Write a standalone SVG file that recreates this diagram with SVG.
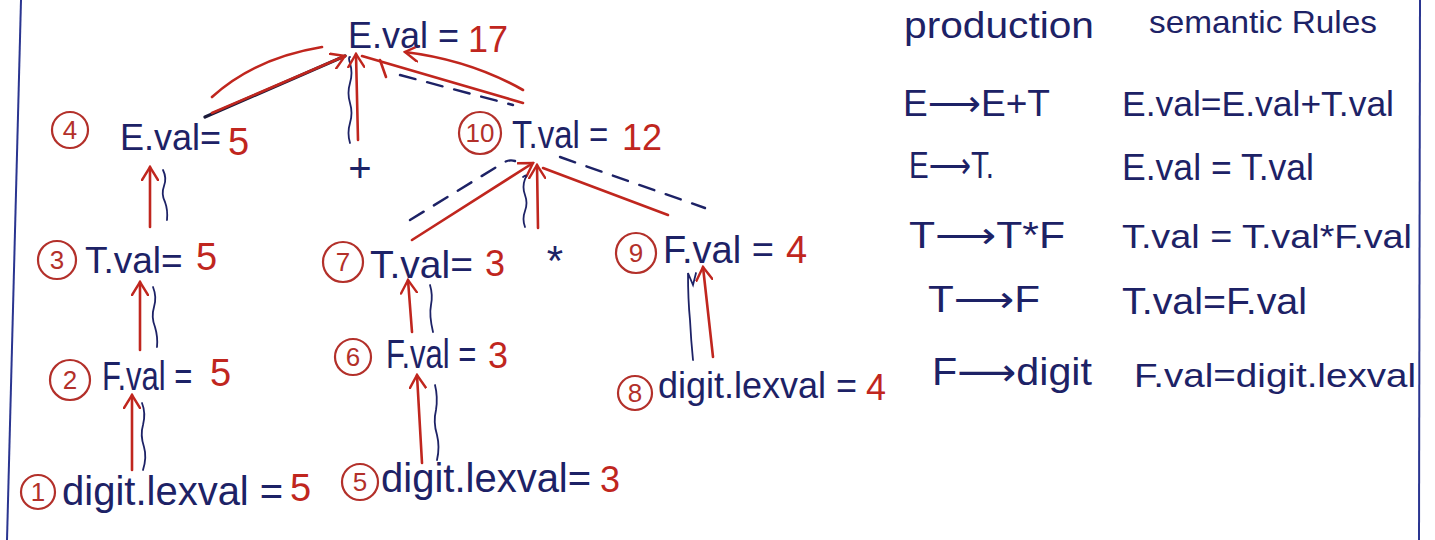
<svg xmlns="http://www.w3.org/2000/svg" width="1435" height="540" viewBox="0 0 1435 540">
<defs>
<style>
.b{fill:#1d2266;font-family:"Liberation Sans","DejaVu Sans",sans-serif}
.r{fill:#c0261e;font-family:"Liberation Sans","DejaVu Sans",sans-serif}
.num{fill:#b3302a;font-family:"Liberation Sans","DejaVu Sans",sans-serif;font-size:26px;text-anchor:middle}
.circ{fill:none;stroke:#b3302a;stroke-width:2.2}
.arr{fill:none;stroke:#c0261e;stroke-width:2.6;stroke-linecap:round;marker-end:url(#ah)}
.rl{fill:none;stroke:#c0261e;stroke-width:2.6;stroke-linecap:round}
.wave{fill:none;stroke:#1d2266;stroke-width:1.8;stroke-linecap:round}
.dash{fill:none;stroke:#1d2266;stroke-width:2.4;stroke-dasharray:16 12;stroke-linecap:round}
.dark{fill:none;stroke:#1a1a3a;stroke-width:3.2;stroke-linecap:round}
.border{fill:none;stroke:#2a3590;stroke-width:2}
</style>
<marker id="ah" viewBox="-1 -9 16 18" markerWidth="16" markerHeight="18" refX="13" refY="0" orient="auto" markerUnits="userSpaceOnUse">
<path d="M0,-8 L13,0 L0,8" fill="none" stroke="#c0261e" stroke-width="2.4" stroke-linecap="round"/>
</marker>
</defs>
<rect width="1435" height="540" fill="#ffffff"/>
<path class="border" d="M21,0 L7,540"/>
<path class="border" d="M1420,0 L1419,540"/>

<g id="connectors">
<!-- root -->
<path class="rl" d="M212,97 Q255,58 322,47"/>
<path class="dark" d="M205,117 L345,56"/>
<path class="arr" d="M212,113 L345,56"/>
<path class="wave" d="M350,143 q-3,-10 0,-20 q3,-10 0,-20 q-3,-10 0,-20 q3,-10 0,-20 q-2,-6 0,-6"/>
<path class="arr" d="M358,140 L356,54"/>
<path class="arr" d="M523,90 Q470,60 405,52"/>
<path class="rl" d="M362,56 L523,103"/>
<path class="rl" d="M380,60 L386,77"/>
<path class="dash" d="M400,75 L513,105"/>
<!-- node 10 -->
<path class="dash" d="M410,220 L503,163 q6,-4 12,-2"/>
<path class="arr" d="M412,240 L533,163"/>
<path class="wave" d="M525,227 q-3,-8 0,-16 q3,-8 0,-16 q-3,-8 0,-16 q3,-6 -2,-2"/>
<path class="arr" d="M538,228 L537,165"/>
<path class="rl" d="M543,168 L668,215"/>
<path class="dash" d="M560,157 L705,208"/>
<!-- left chain -->
<path class="arr" d="M150,227 L150,167"/>
<path class="wave" d="M163,170 q4,8 1,16 q-3,8 1,16 q3,8 2,18"/>
<path class="arr" d="M140,350 L140,282"/>
<path class="wave" d="M153,287 q4,10 1,20 q-3,10 1,20 q3,10 2,20"/>
<path class="arr" d="M132,470 L132,395"/>
<path class="wave" d="M142,403 q4,10 1,22 q-3,10 1,22 q3,10 -1,23"/>
<!-- middle chain -->
<path class="arr" d="M412,332 L408,280"/>
<path class="wave" d="M430,285 q3,10 1,20 q-2,10 2,27"/>
<path class="arr" d="M422,463 L417,375"/>
<path class="wave" d="M435,385 q3,12 1,25 q-3,12 1,25 q3,12 0,25"/>
<!-- right -->
<path class="arr" d="M713,357 L703,267"/>
<path class="wave" d="M693,360 q-2,-20 -3,-40 q-2,-20 -2,-47 l5,12 l3,-12"/>
</g>

<g id="n-root">
<text class="b" x="348" y="48" font-size="36">E.val =</text>
<text class="r" x="468" y="52" font-size="36">17</text>
</g>

<g id="n4">
<circle class="circ" cx="70" cy="130" r="18"/>
<text class="num" x="70" y="139">4</text>
<text class="b" x="120" y="150" font-size="36">E.val=</text>
<text class="r" x="228" y="155" font-size="38">5</text>
</g>

<g id="n-plus">
<text class="b" x="360" y="182" font-size="40" text-anchor="middle">+</text>
</g>

<g id="n10">
<circle class="circ" cx="480" cy="133" r="21"/>
<text class="num" x="480" y="142" font-size="23">10</text>
<text class="b" x="512" y="148" font-size="33" transform="translate(0,-29.6) scale(1,1.2)">T.val =</text>
<text class="r" x="622" y="150" font-size="36">12</text>
</g>

<g id="n3">
<circle class="circ" cx="57" cy="260" r="19"/>
<text class="num" x="57" y="269">3</text>
<text class="b" x="85" y="273" font-size="37">T.val=</text>
<text class="r" x="196" y="270" font-size="38">5</text>
</g>

<g id="n7">
<circle class="circ" cx="343" cy="262" r="20"/>
<text class="num" x="343" y="271">7</text>
<text class="b" x="370" y="278" font-size="39">T.val=</text>
<text class="r" x="485" y="276" font-size="36">3</text>
</g>

<g id="n-star">
<text class="b" x="555" y="275" font-size="42" text-anchor="middle">*</text>
</g>

<g id="n9">
<circle class="circ" cx="636" cy="253" r="20"/>
<text class="num" x="636" y="262">9</text>
<text class="b" x="663" y="263" font-size="38">F.val =</text>
<text class="r" x="786" y="263" font-size="38">4</text>
</g>

<g id="n2">
<circle class="circ" cx="70" cy="380" r="20"/>
<text class="num" x="70" y="389">2</text>
<text class="b" x="102" y="390" font-size="31" transform="translate(0,-117) scale(1,1.3)">F.val =</text>
<text class="r" x="210" y="386" font-size="38">5</text>
</g>

<g id="n6">
<circle class="circ" cx="353" cy="357" r="18"/>
<text class="num" x="353" y="366">6</text>
<text class="b" x="386" y="368" font-size="31" transform="translate(0,-110.4) scale(1,1.3)">F.val =</text>
<text class="r" x="488" y="368" font-size="36">3</text>
</g>

<g id="n8">
<circle class="circ" cx="635" cy="393" r="17"/>
<text class="num" x="635" y="402">8</text>
<text class="b" x="658" y="398" font-size="36">digit.lexval =</text>
<text class="r" x="866" y="400" font-size="36">4</text>
</g>

<g id="n1">
<circle class="circ" cx="38" cy="492" r="17"/>
<text class="num" x="38" y="501">1</text>
<text class="b" x="62" y="505" font-size="40">digit.lexval =</text>
<text class="r" x="290" y="501" font-size="38">5</text>
</g>

<g id="n5">
<circle class="circ" cx="360" cy="482" r="18"/>
<text class="num" x="360" y="491">5</text>
<text class="b" x="381" y="492" font-size="40">digit.lexval=</text>
<text class="r" x="600" y="492" font-size="36">3</text>
</g>

<g id="table">
<text class="b" x="904" y="38" font-size="36" textLength="190" lengthAdjust="spacingAndGlyphs">production</text>
<text class="b" x="1149" y="33" font-size="32" textLength="228" lengthAdjust="spacingAndGlyphs">semantic Rules</text>
<text class="b" x="903" y="116" font-size="36" textLength="147" lengthAdjust="spacingAndGlyphs">E⟶E+T</text>
<text class="b" x="1122" y="116" font-size="35" textLength="272" lengthAdjust="spacingAndGlyphs">E.val=E.val+T.val</text>
<text class="b" x="909" y="178" font-size="36" textLength="85" lengthAdjust="spacingAndGlyphs">E⟶T.</text>
<text class="b" x="1122" y="180" font-size="36" textLength="192" lengthAdjust="spacingAndGlyphs">E.val = T.val</text>
<text class="b" x="909" y="248" font-size="36" textLength="156" lengthAdjust="spacingAndGlyphs">T⟶T*F</text>
<text class="b" x="1122" y="248" font-size="33" textLength="290" lengthAdjust="spacingAndGlyphs">T.val = T.val*F.val</text>
<text class="b" x="928" y="312" font-size="36" textLength="112" lengthAdjust="spacingAndGlyphs">T⟶F</text>
<text class="b" x="1122" y="314" font-size="36" textLength="185" lengthAdjust="spacingAndGlyphs">T.val=F.val</text>
<text class="b" x="932" y="385" font-size="38" textLength="160" lengthAdjust="spacingAndGlyphs">F⟶digit</text>
<text class="b" x="1134" y="387" font-size="34" textLength="282" lengthAdjust="spacingAndGlyphs">F.val=digit.lexval</text>
</g>
</svg>
